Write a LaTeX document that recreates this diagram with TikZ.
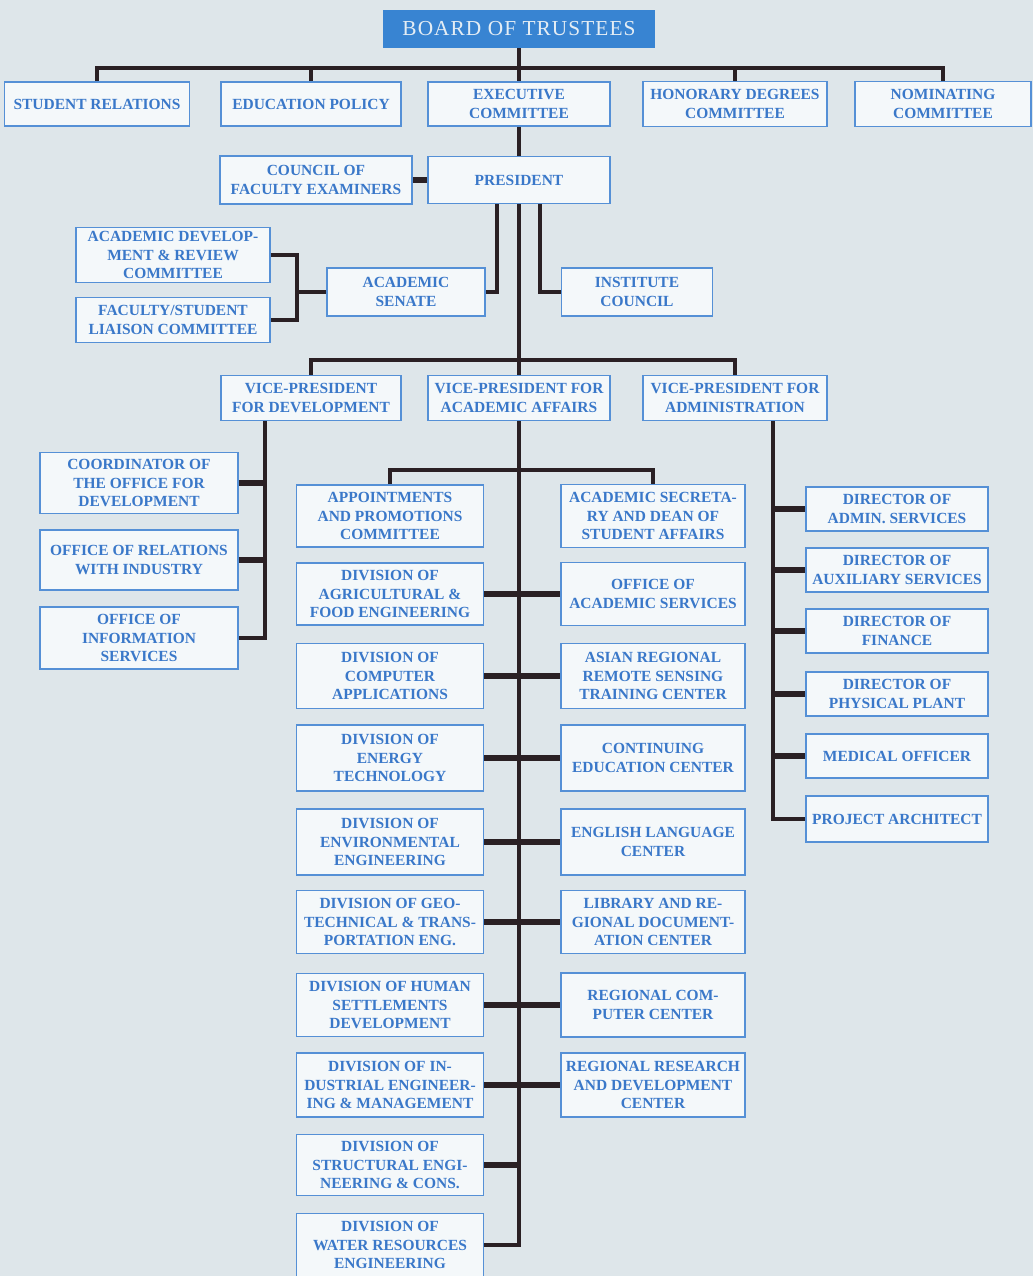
\documentclass[tikz,border=0pt]{standalone}
\usepackage{fontspec}
\setmainfont{Liberation Serif}
\newfontfamily\boardfont[LetterSpace=5]{Liberation Serif}
\usepackage{tikz}
\definecolor{paper}{HTML}{DEE6EA}
\definecolor{boxfill}{HTML}{F4F8FA}
\definecolor{boxline}{HTML}{5590D6}
\definecolor{boxtext}{HTML}{3A78C9}
\definecolor{boardblue}{HTML}{3884D2}
\definecolor{boardtext}{HTML}{E4EDF4}
\definecolor{ink}{HTML}{2A2024}
\newdimen\px \px=0.75pt
\tikzstyle{unit}=[draw=boxline, fill=boxfill, text=boxtext, line width=1.3pt,
  align=center, inner sep=1pt, font=\bfseries\fontsize{11.6}{14}\selectfont]
\tikzstyle{board}=[fill=boardblue, text=boardtext, inner sep=0pt,
  font=\boardfont\fontsize{16}{19}\selectfont]
\tikzstyle{link}=[draw=ink, line width=2.6pt]
\tikzstyle{stub}=[draw=ink, line width=4pt]
\tikzset{wh/.style 2 args={minimum width=#1\px, minimum height=#2\px}}

\begin{document}
\begin{tikzpicture}[x=0.75pt, y=-0.75pt]
  \fill[paper] (0,0) rectangle (1033,1276);
  \useasboundingbox (0,0) rectangle (1033,1276);

  % board and its committees
  \node[board, wh={272}{38}]  (board) at (519,29)  {BOARD OF TRUSTEES};
  \node[unit, wh={185}{44}]   (sr)    at (97,104)  {STUDENT RELATIONS};
  \node[unit, wh={180}{44}]   (ep)    at (311,104) {EDUCATION POLICY};
  \node[unit, wh={182}{44}]   (exec)  at (519,104) {EXECUTIVE\\COMMITTEE};
  \node[unit, wh={184}{45}]   (hon)   at (735,104) {HONORARY DEGREES\\COMMITTEE};
  \node[unit, wh={176}{45}]   (nom)   at (943,104) {NOMINATING\\COMMITTEE};
  \coordinate (tbar) at (519,68);

  \node[unit, wh={192}{48}]   (council) at (316,180) {COUNCIL OF\\FACULTY EXAMINERS};
  \node[unit, wh={182}{47}]   (pres)    at (519,180) {PRESIDENT};

  % senate and institute council
  \node[unit, wh={194}{55}]   (adrc)   at (173,255) {ACADEMIC DEVELOP-\\MENT \& REVIEW\\COMMITTEE};
  \node[unit, wh={194}{45}]   (fslc)   at (173,320) {FACULTY/STUDENT\\LIAISON COMMITTEE};
  \node[unit, wh={158}{48}]   (senate) at (406,292) {ACADEMIC\\SENATE};
  \node[unit, wh={151}{48}]   (inst)   at (637,292) {INSTITUTE\\COUNCIL};
  \coordinate (brk) at (297,292);
  \coordinate (ps1) at (497,204);
  \coordinate (ps2) at (540,204);

  % vice-presidents
  \node[unit, wh={180}{45}]   (vpd)  at (311,398) {VICE-PRESIDENT\\FOR DEVELOPMENT};
  \node[unit, wh={182}{45}]   (vpa)  at (519,398) {VICE-PRESIDENT FOR\\ACADEMIC AFFAIRS};
  \node[unit, wh={184}{45}]   (vpad) at (735,398) {VICE-PRESIDENT FOR\\ADMINISTRATION};
  \coordinate (vpbar) at (519,360);

  % development
  \node[unit, wh={198}{61}] (coord) at (139,483) {COORDINATOR OF\\THE OFFICE FOR\\DEVELOPMENT};
  \node[unit, wh={198}{60}] (reli)  at (139,560) {OFFICE OF RELATIONS\\WITH INDUSTRY};
  \node[unit, wh={198}{62}] (info)  at (139,638) {OFFICE OF\\INFORMATION\\SERVICES};
  \coordinate (dv) at (265,421);

  % academic affairs
  \node[unit, wh={187}{62}] (appt) at (390,516)  {APPOINTMENTS\\AND PROMOTIONS\\COMMITTEE};
  \node[unit, wh={184}{63}] (sec)  at (653,516)  {ACADEMIC SECRETA-\\RY AND DEAN OF\\STUDENT AFFAIRS};
  \node[unit, wh={187}{62}] (agri) at (390,594)  {DIVISION OF\\AGRICULTURAL \&\\FOOD ENGINEERING};
  \node[unit, wh={184}{63}] (acs)  at (653,594)  {OFFICE OF\\ACADEMIC SERVICES};
  \node[unit, wh={187}{65}] (comp) at (390,676)  {DIVISION OF\\COMPUTER\\APPLICATIONS};
  \node[unit, wh={184}{65}] (asia) at (653,676)  {ASIAN REGIONAL\\REMOTE SENSING\\TRAINING CENTER};
  \node[unit, wh={187}{66}] (ener) at (390,758)  {DIVISION OF\\ENERGY\\TECHNOLOGY};
  \node[unit, wh={184}{66}] (cont) at (653,758)  {CONTINUING\\EDUCATION CENTER};
  \node[unit, wh={187}{66}] (env)  at (390,842)  {DIVISION OF\\ENVIRONMENTAL\\ENGINEERING};
  \node[unit, wh={184}{66}] (eng)  at (653,842)  {ENGLISH LANGUAGE\\CENTER};
  \node[unit, wh={187}{63}] (geo)  at (390,922)  {DIVISION OF GEO-\\TECHNICAL \& TRANS-\\PORTATION ENG.};
  \node[unit, wh={184}{63}] (lib)  at (653,922)  {LIBRARY AND RE-\\GIONAL DOCUMENT-\\ATION CENTER};
  \node[unit, wh={187}{63}] (hum)  at (390,1005) {DIVISION OF HUMAN\\SETTLEMENTS\\DEVELOPMENT};
  \node[unit, wh={184}{64}] (rcc)  at (653,1005) {REGIONAL COM-\\PUTER CENTER};
  \node[unit, wh={187}{64}] (ind)  at (390,1085) {DIVISION OF IN-\\DUSTRIAL ENGINEER-\\ING \& MANAGEMENT};
  \node[unit, wh={184}{64}] (rrd)  at (653,1085) {REGIONAL RESEARCH\\AND DEVELOPMENT\\CENTER};
  \node[unit, wh={187}{61}] (str)  at (390,1165) {DIVISION OF\\STRUCTURAL ENGI-\\NEERING \& CONS.};
  \node[unit, wh={187}{63}] (wat)  at (390,1245) {DIVISION OF\\WATER RESOURCES\\ENGINEERING};
  \coordinate (acbar) at (519,470);

  % administration
  \node[unit, wh={182}{44}] (dadm) at (897,509) {DIRECTOR OF\\ADMIN. SERVICES};
  \node[unit, wh={182}{44}] (daux) at (897,570) {DIRECTOR OF\\AUXILIARY SERVICES};
  \node[unit, wh={182}{44}] (dfin) at (897,631) {DIRECTOR OF\\FINANCE};
  \node[unit, wh={182}{44}] (dphy) at (897,694) {DIRECTOR OF\\PHYSICAL PLANT};
  \node[unit, wh={182}{44}] (med)  at (897,756) {MEDICAL OFFICER};
  \node[unit, wh={182}{46}] (arch) at (897,819) {PROJECT ARCHITECT};
  \coordinate (ad) at (773,421);

  % connectors
  \draw[link] (board.south) -- (exec.north);
  \draw[link] (sr.north) |- (tbar) -| (nom.north);
  \draw[link] (ep.north) -- (ep.north |- tbar) (hon.north) -- (hon.north |- tbar);
  \draw[link] (exec.south) -- (pres.north);
  \draw[stub] (council.east) -- (pres.west);

  \draw[link] (ps1) |- (senate.east);
  \draw[link] (ps2) |- (inst.west);
  \draw[link] (adrc.east) -| (brk) |- (fslc.east);
  \draw[link] (brk) -- (senate.west);

  \draw[link] (pres.south) -- (vpbar) -- (vpa.north);
  \draw[link] (vpd.north) |- (vpbar) -| (vpad.north);

  \draw[link] (dv) |- (info.east);
  \draw[stub] (coord.east) -- (coord.east -| dv) (reli.east) -- (reli.east -| dv);

  \draw[link] (vpa.south) |- (wat.east);
  \draw[link] (appt.north) |- (acbar) -| (sec.north);
  \draw[stub] (agri.east) -- (acs.west)  (comp.east) -- (asia.west)
              (ener.east) -- (cont.west) (env.east)  -- (eng.west)
              (geo.east)  -- (lib.west)  (hum.east)  -- (rcc.west)
              (ind.east)  -- (rrd.west)  (str.east)  -- (str.east -| vpa);

  \draw[link] (ad) |- (arch.west);
  \draw[stub] (dadm.west) -- (dadm.west -| ad) (daux.west) -- (daux.west -| ad)
              (dfin.west) -- (dfin.west -| ad) (dphy.west) -- (dphy.west -| ad)
              (med.west)  -- (med.west -| ad);
\end{tikzpicture}
\end{document}
